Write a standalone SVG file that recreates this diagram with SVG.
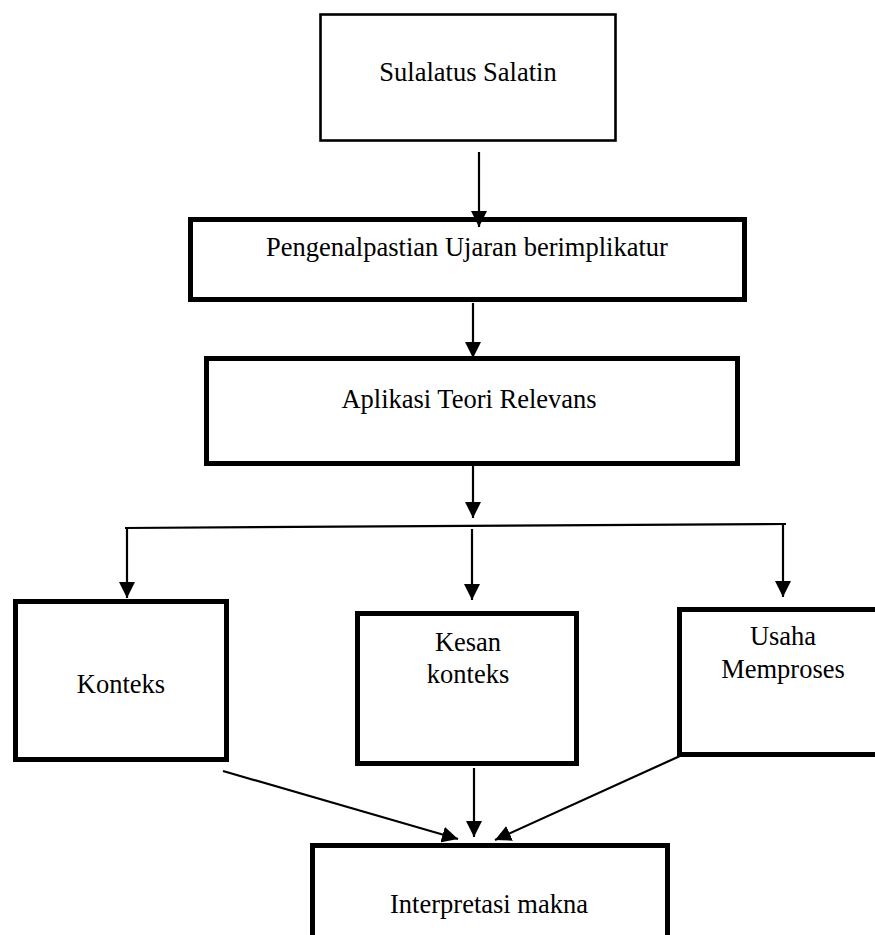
<svg xmlns="http://www.w3.org/2000/svg" width="875" height="935" viewBox="0 0 875 935">
<style>
  .box { fill: #ffffff; stroke: #000000; stroke-width: 5; }
  .thin { fill: #ffffff; stroke: #000000; stroke-width: 2.6; }
  .lbl { font-family: "Liberation Serif", "Times New Roman", serif; font-size: 26.5px; fill: #000000; text-anchor: middle; }
  .conn { fill: none; stroke: #000000; stroke-width: 2.2; }
  .arr { marker-end: url(#head); }
</style>
<defs>
  <marker id="head" viewBox="0 0 16 16" refX="16" refY="8" markerWidth="16" markerHeight="16" orient="auto" markerUnits="userSpaceOnUse">
    <path d="M0,0 L16,8 L0,16 Z" fill="#000000"/>
  </marker>
</defs>
<rect width="875" height="935" fill="#ffffff"/>

<g id="node-sulalatus">
  <rect class="thin" x="320.5" y="14.5" width="295" height="126"/>
  <text class="lbl" x="468" y="81">Sulalatus Salatin</text>
</g>
<g id="node-pengenalpastian">
  <rect class="box" x="190.5" y="219.5" width="554" height="80"/>
  <text class="lbl" x="467" y="256">Pengenalpastian Ujaran berimplikatur</text>
</g>
<g id="node-aplikasi">
  <rect class="box" x="206.5" y="358.5" width="531" height="105"/>
  <text class="lbl" x="469" y="408">Aplikasi Teori Relevans</text>
</g>
<g id="node-konteks">
  <rect class="box" x="15.5" y="601.5" width="211" height="158"/>
  <text class="lbl" x="121" y="693">Konteks</text>
</g>
<g id="node-kesan">
  <rect class="box" x="357.5" y="613.5" width="219" height="150"/>
  <text class="lbl" x="468" y="651">Kesan</text>
  <text class="lbl" x="468" y="683">konteks</text>
</g>
<g id="node-usaha">
  <rect class="box" x="679.5" y="609.5" width="210" height="145"/>
  <text class="lbl" x="783" y="645">Usaha</text>
  <text class="lbl" x="783" y="678">Memproses</text>
</g>
<g id="node-interpretasi">
  <rect class="box" x="312.5" y="845.5" width="355" height="110"/>
  <text class="lbl" x="489" y="913">Interpretasi makna</text>
</g>

<g id="connectors">
  <line class="conn arr" x1="479" y1="152" x2="479" y2="227"/>
  <line class="conn arr" x1="473" y1="303" x2="473" y2="358"/>
  <line class="conn arr" x1="473" y1="466" x2="473" y2="518"/>
  <line class="conn" x1="125" y1="528" x2="786" y2="524"/>
  <line class="conn arr" x1="127" y1="528" x2="127" y2="598"/>
  <line class="conn arr" x1="472" y1="529" x2="472" y2="600"/>
  <line class="conn arr" x1="783" y1="524" x2="783" y2="597"/>
  <line class="conn arr" x1="223" y1="771" x2="458" y2="839"/>
  <line class="conn arr" x1="474" y1="768" x2="474" y2="837"/>
  <line class="conn arr" x1="680" y1="756" x2="495" y2="840"/>
</g>
</svg>
